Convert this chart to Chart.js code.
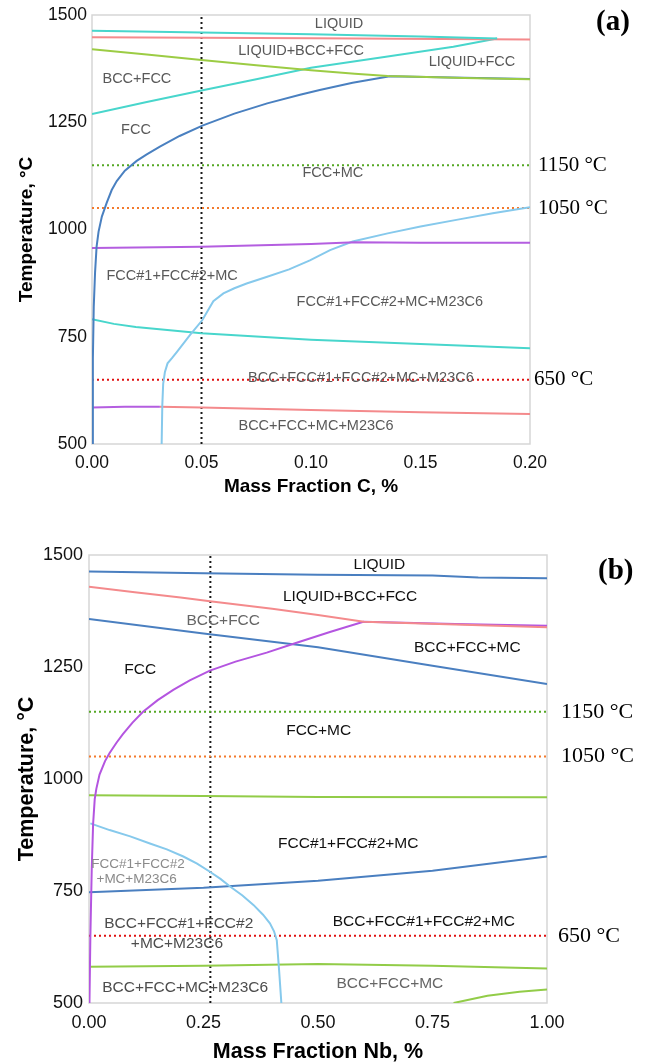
<!DOCTYPE html>
<html>
<head>
<meta charset="utf-8">
<script src="https://cdn.jsdelivr.net/npm/chart.js@4.4.1/dist/chart.umd.min.js"></script>
<style>
  html, body { margin: 0; padding: 0; background: #fff; overflow: hidden; }
  .panel { position: absolute; left: 0; width: 647px; }
  #boxA { top: 0; height: 520px; }
  #boxB { top: 530px; height: 534px; }
</style>
</head>
<body>
<div class="panel" id="boxA"><canvas id="chartA"></canvas></div>
<div class="panel" id="boxB"><canvas id="chartB"></canvas></div>
<script>
/******************* DATA (a) : Mass Fraction C ********************/
var aXTicks = [0, 0.05, 0.10, 0.15, 0.20];
var aYTicks = [500, 750, 1000, 1250, 1500];

var aLiquidusX = [0, 0.05, 0.10, 0.15, 0.185];
var aLiquidusT = [1463, 1459, 1455, 1450, 1445];

var aPinkTopX = [0, 0.10, 0.20];
var aPinkTopT = [1448, 1446, 1443];

var aGreenTopX = [0, 0.025, 0.05, 0.075, 0.10, 0.12, 0.135, 0.17, 0.20];
var aGreenTopT = [1420, 1408, 1395, 1383, 1371, 1363, 1358, 1353, 1350];

var aCyanMidX = [0, 0.025, 0.05, 0.075, 0.10, 0.135, 0.165, 0.185];
var aCyanMidT = [1269, 1297, 1324, 1350, 1377, 1403, 1426, 1445];

var aFccX = [0.0002, 0.0004, 0.0008, 0.0014, 0.0021, 0.003, 0.0045, 0.0067, 0.009, 0.0113, 0.015, 0.0204, 0.025, 0.031, 0.04, 0.0504, 0.065, 0.08, 0.095, 0.104, 0.119, 0.136, 0.17, 0.20];
var aFccT = [500, 700, 820, 900, 960, 995, 1030, 1062, 1092, 1113, 1137, 1160, 1175, 1193, 1218, 1242, 1270, 1294, 1314, 1325, 1342, 1357, 1354, 1351];

var aPurpleMidX = [0, 0.05, 0.10, 0.12, 0.15, 0.20];
var aPurpleMidT = [957, 960, 966, 970, 969, 969];

var aM23X = [0.0318, 0.0321, 0.0325, 0.0333, 0.0345, 0.0365, 0.0388, 0.0447, 0.0504, 0.0554, 0.06, 0.065, 0.0706, 0.08, 0.09, 0.0995, 0.1087, 0.119, 0.135, 0.15, 0.167, 0.183, 0.20];
var aM23T = [500, 590, 640, 668, 688, 700, 715, 754, 789, 833, 851, 863, 874, 890, 907, 928, 952, 972, 991, 1007, 1023, 1038, 1052];

var aCyanLowX = [0, 0.01, 0.02, 0.05, 0.10, 0.15, 0.20];
var aCyanLowT = [791, 780, 773, 758, 743, 733, 723];

var aPurpleLowX = [0, 0.015, 0.031];
var aPurpleLowT = [585, 587, 587];

var aPinkLowX = [0.031, 0.05, 0.10, 0.15, 0.20];
var aPinkLowT = [587, 585, 579, 574, 570];

var aVertical = 0.05;

var aLabels = ["LIQUID", "LIQUID+BCC+FCC", "LIQUID+FCC", "BCC+FCC", "FCC", "FCC+MC",
  "FCC#1+FCC#2+MC", "FCC#1+FCC#2+MC+M23C6", "BCC+FCC#1+FCC#2+MC+M23C6", "BCC+FCC+MC+M23C6"];
var aLabelX = [0.1128, 0.0955, 0.1735, 0.0205, 0.0201, 0.110, 0.0366, 0.136, 0.1228, 0.1023];
var aLabelT = [1479, 1417, 1391, 1351, 1232, 1131, 892, 832, 655, 542];

/******************* DATA (b) : Mass Fraction Nb ********************/
var bXTicks = [0, 0.25, 0.50, 0.75, 1.00];
var bYTicks = [500, 750, 1000, 1250, 1500];

var bLiquidusX = [0, 0.25, 0.50, 0.75, 0.85, 1.0];
var bLiquidusT = [1463, 1459, 1456, 1454, 1450, 1448];

var bPinkX = [0, 0.10, 0.20, 0.264, 0.40, 0.50, 0.60, 0.80, 1.0];
var bPinkT = [1429, 1417, 1405, 1397, 1380, 1366, 1351, 1345, 1339];

var bPurpleX = [0.001, 0.003, 0.006, 0.009, 0.0125, 0.016, 0.023, 0.035, 0.045, 0.06, 0.074, 0.095, 0.118, 0.15, 0.184, 0.22, 0.264, 0.32, 0.388, 0.45, 0.526, 0.599, 0.80, 1.0];
var bPurpleT = [500, 650, 800, 900, 955, 978, 1010, 1040, 1058, 1081, 1100, 1126, 1150, 1176, 1199, 1220, 1242, 1262, 1282, 1303, 1328, 1351, 1346, 1342];

var bBlueMidX = [0, 0.25, 0.50, 0.75, 1.0];
var bBlueMidT = [1357, 1325, 1294, 1253, 1212];

var bGreenMidX = [0, 0.25, 0.50, 1.0];
var bGreenMidT = [964, 962, 960, 959];

var bM23X = [0.003, 0.045, 0.09, 0.133, 0.17, 0.206, 0.236, 0.264, 0.287, 0.308, 0.335, 0.359, 0.38, 0.395, 0.404, 0.41, 0.415, 0.42];
var bM23T = [901, 886, 872, 856, 843, 827, 811, 793, 777, 760, 740, 719, 697, 678, 660, 640, 574, 500];

var bBlueLowX = [0, 0.25, 0.50, 0.75, 1.0];
var bBlueLowT = [747, 757, 773, 795, 827];

var bGreenLowX = [0, 0.25, 0.50, 0.75, 1.0];
var bGreenLowT = [581, 583, 587, 583, 577];

var bGreenBotX = [0.796, 0.87, 0.94, 1.0];
var bGreenBotT = [500, 516, 525, 530];

var bVertical = 0.265;

var bLabels = ["LIQUID", "LIQUID+BCC+FCC", "BCC+FCC", "FCC", "BCC+FCC+MC", "FCC+MC",
  "FCC#1+FCC#2+MC", "FCC#1+FCC#2", "+MC+M23C6", "BCC+FCC#1+FCC#2", "+MC+M23C6",
  "BCC+FCC#1+FCC#2+MC", "BCC+FCC+MC+M23C6", "BCC+FCC+MC"];
var bLabelX = [0.634, 0.57, 0.293, 0.112, 0.826, 0.5015, 0.566, 0.107, 0.104, 0.196, 0.192, 0.731, 0.21, 0.657];
var bLabelT = [1478, 1407, 1353, 1243, 1294, 1108, 855, 810, 776, 676, 632, 681, 534, 542];
var bLabelColor = ["#111", "#111", "#666", "#111", "#111", "#111", "#111", "#8a8a8a", "#8a8a8a",
  "#4d4d4d", "#4d4d4d", "#111", "#4d4d4d", "#666"];

// isotherms used for heat treatment, same in both panels
var isoT = [1150, 1050, 650];
var isoColor = ["#55a825", "#f47a2c", "#e01010"];
var isoText = ["1150 \u00b0C", "1050 \u00b0C", "650 \u00b0C"];

/******************* helpers ********************/
var SANS = "'Liberation Sans', Arial, sans-serif";
var SERIF = "'Liberation Serif', 'Times New Roman', serif";

function pts(xs, ts) {
    return xs.map(function (x, i) { return { x: x, y: ts[i] }; });
}

function curve(xs, ts, color) {
    return {
        data: pts(xs, ts),
        showLine: true,
        borderColor: color,
        borderWidth: 2,
        pointRadius: 0,
        tension: 0,
        fill: false
    };
}

function dotted(data, color) {
    return {
        data: data,
        showLine: true,
        borderColor: color,
        borderWidth: 2,
        borderDash: [2, 3],
        pointRadius: 0,
        tension: 0,
        fill: false
    };
}

function pick(v, i) {
    return Array.isArray(v) ? v[i] : v;
}

// frame + phase labels + isotherm text + panel letter
function annotPlugin(cfg) {
    return {
        id: "annot",
        beforeDatasetsDraw: function (chart) {
            var a = chart.chartArea, ctx = chart.ctx;
            ctx.save();
            ctx.strokeStyle = "#d6d6d6";
            ctx.lineWidth = 1.5;
            ctx.strokeRect(a.left, a.top, a.right - a.left, a.bottom - a.top);
            ctx.restore();
        },
        afterDatasetsDraw: function (chart) {
            var ctx = chart.ctx, xs = chart.scales.x, ys = chart.scales.y, a = chart.chartArea;
            ctx.save();
            ctx.textAlign = "center";
            ctx.textBaseline = "middle";
            for (var i = 0; i < cfg.labels.length; i++) {
                ctx.font = pick(cfg.labelSize, i) + "px " + SANS;
                ctx.fillStyle = pick(cfg.labelColor, i);
                ctx.fillText(cfg.labels[i], xs.getPixelForValue(cfg.labelX[i]), ys.getPixelForValue(cfg.labelT[i]));
            }
            ctx.textAlign = "left";
            ctx.fillStyle = "#000";
            ctx.font = cfg.isoSize + "px " + SERIF;
            for (var j = 0; j < isoT.length; j++) {
                ctx.fillText(isoText[j], a.right + cfg.isoGap[j], ys.getPixelForValue(isoT[j]));
            }
            ctx.font = "bold 29px " + SERIF;
            ctx.fillText(cfg.letter, a.right + cfg.letterGap, a.top + cfg.letterDy);
            ctx.restore();
        }
    };
}

function makeChart(id, cfg) {
    var ctx = document.getElementById(id).getContext("2d");
    return new Chart(ctx, {
        type: "scatter",
        data: { datasets: cfg.datasets },
        options: {
            responsive: true,
            maintainAspectRatio: false,
            animation: false,
            layout: { padding: cfg.padding },
            plugins: { legend: { display: false }, tooltip: { enabled: false } },
            scales: {
                x: {
                    type: "linear",
                    min: cfg.xTicks[0],
                    max: cfg.xTicks[cfg.xTicks.length - 1],
                    afterBuildTicks: function (s) { s.ticks = cfg.xTicks.map(function (v) { return { value: v }; }); },
                    afterFit: function (s) { s.height = cfg.xHeight; s.paddingLeft = 0; s.paddingRight = 0; },
                    grid: { display: false, drawTicks: false },
                    border: { display: false },
                    ticks: {
                        padding: cfg.xTickPad,
                        maxRotation: 0,
                        color: "#111",
                        font: { family: SANS, size: cfg.tickSize },
                        callback: function (v) { return Number(v).toFixed(2); }
                    },
                    title: {
                        display: true,
                        text: cfg.xTitle,
                        color: "#000",
                        font: { family: SANS, size: cfg.titleSize, weight: "bold", lineHeight: 1 },
                        padding: { top: 0, bottom: cfg.xTitlePad }
                    }
                },
                y: {
                    type: "linear",
                    min: 500,
                    max: 1500,
                    afterBuildTicks: function (s) { s.ticks = cfg.yTicks.map(function (v) { return { value: v }; }); },
                    afterFit: function (s) { s.width = cfg.yWidth; s.paddingTop = 0; s.paddingBottom = 0; },
                    grid: { display: false, drawTicks: false },
                    border: { display: false },
                    ticks: {
                        padding: cfg.yTickPad,
                        color: "#111",
                        font: { family: SANS, size: cfg.tickSize },
                        callback: function (v) { return String(v); }
                    },
                    title: {
                        display: true,
                        text: "Temperature, \u00b0C",
                        color: "#000",
                        font: { family: SANS, size: cfg.titleSize, weight: "bold", lineHeight: 1 },
                        padding: { top: cfg.yTitlePad, bottom: 0 }
                    }
                }
            }
        },
        plugins: [annotPlugin(cfg)]
    });
}

/******************* CHART (a) ********************/
var dsA = [
    curve(aLiquidusX, aLiquidusT, "#48d6cc"),
    curve(aPinkTopX, aPinkTopT, "#f48a8c"),
    curve(aGreenTopX, aGreenTopT, "#9ccc44"),
    curve(aCyanMidX, aCyanMidT, "#48d6cc"),
    curve(aFccX, aFccT, "#4a80c0"),
    curve(aPurpleMidX, aPurpleMidT, "#b45ee0"),
    curve(aM23X, aM23T, "#86c9ec"),
    curve(aCyanLowX, aCyanLowT, "#48d6cc"),
    curve(aPurpleLowX, aPurpleLowT, "#b45ee0"),
    curve(aPinkLowX, aPinkLowT, "#f48a8c")
];
isoT.forEach(function (t, i) {
    dsA.push(dotted([{ x: 0, y: t }, { x: 0.2, y: t }], isoColor[i]));
});
dsA.push(dotted([{ x: aVertical, y: 500 }, { x: aVertical, y: 1500 }], "#1a1a1a"));

makeChart("chartA", {
    datasets: dsA,
    padding: { left: 0, top: 15, right: 117, bottom: 0 },
    xTicks: aXTicks, yTicks: aYTicks,
    xHeight: 76, yWidth: 92,
    xTickPad: 9, yTickPad: 5,
    tickSize: 17.5, titleSize: 19,
    xTitle: "Mass Fraction C, %",
    xTitlePad: 24, yTitlePad: 17,
    labels: aLabels, labelX: aLabelX, labelT: aLabelT,
    labelColor: "#595959", labelSize: 14.5,
    isoSize: 21, isoGap: [8, 8, 4],
    letter: "(a)", letterGap: 66, letterDy: 8
});

/******************* CHART (b) ********************/
var dsB = [
    curve(bLiquidusX, bLiquidusT, "#4a7fc0"),
    curve(bPinkX, bPinkT, "#f48a8c"),
    curve(bPurpleX, bPurpleT, "#b455e0"),
    curve(bBlueMidX, bBlueMidT, "#4a7fc0"),
    curve(bGreenMidX, bGreenMidT, "#92cc48"),
    curve(bM23X, bM23T, "#86c9ec"),
    curve(bBlueLowX, bBlueLowT, "#4a7fc0"),
    curve(bGreenLowX, bGreenLowT, "#92cc48"),
    curve(bGreenBotX, bGreenBotT, "#92cc48")
];
isoT.forEach(function (t, i) {
    dsB.push(dotted([{ x: 0, y: t }, { x: 1, y: t }], isoColor[i]));
});
dsB.push(dotted([{ x: bVertical, y: 500 }, { x: bVertical, y: 1500 }], "#1a1a1a"));

var bSizes = bLabels.map(function (s, i) { return (i === 7 || i === 8) ? 13.5 : 15.5; });

makeChart("chartB", {
    datasets: dsB,
    padding: { left: 0, top: 25, right: 100, bottom: 0 },
    xTicks: bXTicks, yTicks: bYTicks,
    xHeight: 61, yWidth: 89,
    xTickPad: 9, yTickPad: 6,
    tickSize: 18, titleSize: 21.5,
    xTitle: "Mass Fraction Nb, %",
    xTitlePad: 1.5, yTitlePad: 16.5,
    labels: bLabels, labelX: bLabelX, labelT: bLabelT,
    labelColor: bLabelColor, labelSize: bSizes,
    isoSize: 22, isoGap: [14, 14, 11],
    letter: "(b)", letterGap: 51, letterDy: 17
});
</script>
</body>
</html>
